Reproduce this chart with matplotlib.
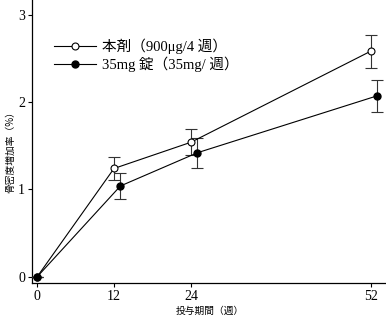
import matplotlib
matplotlib.use("Agg")
import matplotlib.pyplot as plt

# weeks (the 35mg series is drawn slightly offset to the right, as in the source)
weeks_a = [0, 12, 24, 52]
weeks_b = [0, 13, 25, 53]
tick_weeks = [0, 12, 24, 52]

honzai = [0.0, 1.24, 1.54, 2.58]
honzai_err = [0.0, 0.13, 0.15, 0.19]
tab35 = [0.0, 1.04, 1.42, 2.07]
tab35_err = [0.0, 0.15, 0.17, 0.18]

label_a = "本剤（900μg/4 週）"
label_b = "35mg 錠（35mg/ 週）"
xlabel = "投与期間（週）"
ylabel = "骨密度増加率（%）"

serif_cjk = ["Liberation Serif", "Noto Sans CJK JP"]
cjk = ["Noto Sans CJK JP", "DejaVu Sans"]

fig = plt.figure(figsize=(3.86, 3.21), dpi=100)
ax = fig.add_axes([32 / 386, 1 - 283 / 321, 1 - 32 / 386, 283 / 321])

ax.errorbar(weeks_a, honzai, yerr=honzai_err, color="black", ecolor="#333333",
            lw=0.8, elinewidth=0.8, capsize=4, capthick=0.8,
            marker="o", markersize=5, mfc="white", mec="black", mew=0.8,
            label=label_a, zorder=3)
ax.errorbar(weeks_b, tab35, yerr=tab35_err, color="black", ecolor="#333333",
            lw=0.8, elinewidth=0.8, capsize=4, capthick=0.8,
            marker="o", markersize=5, mfc="black", mec="black",
            label=label_b, zorder=3)

ax.set_xlim(-0.78, 54.4)
ax.set_ylim(-0.069, 3.166)
ax.set_xticks(tick_weeks)
ax.set_yticks([0, 1, 2, 3])
for s in ["top", "right"]:
    ax.spines[s].set_visible(False)
for s in ["left", "bottom"]:
    ax.spines[s].set_linewidth(0.9)
ax.tick_params(direction="out", length=3, width=0.8, labelsize=10, pad=2)
for t in ax.get_xticklabels() + ax.get_yticklabels():
    t.set_family("Liberation Serif")

fig.text(210 / 386, 1 - 311 / 321, xlabel, family=cjk, fontsize=7,
         ha="center", va="center")
fig.text(10 / 386, 1 - 150 / 321, ylabel, family=cjk, fontsize=7,
         ha="center", va="center", rotation=90)

handles, labels = ax.get_legend_handles_labels()
handles = [h[0] for h in handles]
leg = ax.legend(handles, labels, loc="upper left", bbox_to_anchor=(0.025, 0.91),
                frameon=False, handlelength=2.9, handletextpad=0.4,
                labelspacing=0.2, prop={"family": serif_cjk, "size": 10.5})

fig.savefig("out.png", dpi=100)
